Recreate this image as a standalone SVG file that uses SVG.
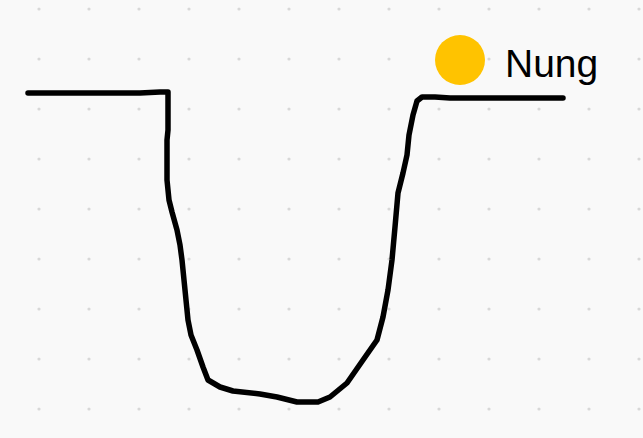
<svg xmlns="http://www.w3.org/2000/svg" width="643" height="438" viewBox="0 0 643 438">
  <defs>
    <pattern id="dots" x="39" y="9" width="50" height="50" patternUnits="userSpaceOnUse">
      <circle cx="0" cy="0" r="1.6" fill="#d8d8d8"/>
      <circle cx="50" cy="0" r="1.6" fill="#d8d8d8"/>
      <circle cx="0" cy="50" r="1.6" fill="#d8d8d8"/>
      <circle cx="50" cy="50" r="1.6" fill="#d8d8d8"/>
    </pattern>
    <style>
      .stroke { fill: none; stroke: #000; stroke-width: 5.5; stroke-linecap: round; stroke-linejoin: round; }
      .label { font-family: "Liberation Sans", Arial, sans-serif; font-size: 39px; fill: #000; }
    </style>
  </defs>
  <rect width="643" height="438" fill="#f9f9f9"/>
  <rect width="643" height="438" fill="url(#dots)"/>
  <g id="valley">
    <path class="stroke" d="M28,93 L140,93 L160,92 L168,92 L168,130 L167,140 L167,180 L169,200 L172,212 L177,230 L180,245 L182,260 L184,280 L186,300 L188,320 L191,335 L197,350 L203,367 L208,380 L220,387 L233,391 L260,394 L277,397 L297,402 L318,402 L330,397 L347,383 L363,360 L377,340 L383,317 L388,290 L392,260 L395,227 L398,193 L403,173 L407,155 L409,135 L413,115 L417,101 L422,97 L435,97 L450,98 L563,98"/>
  </g>
  <g id="legend">
    <circle cx="460" cy="60" r="25" fill="#ffc300"/>
    <text class="label" x="505" y="77">Nung</text>
  </g>
</svg>
